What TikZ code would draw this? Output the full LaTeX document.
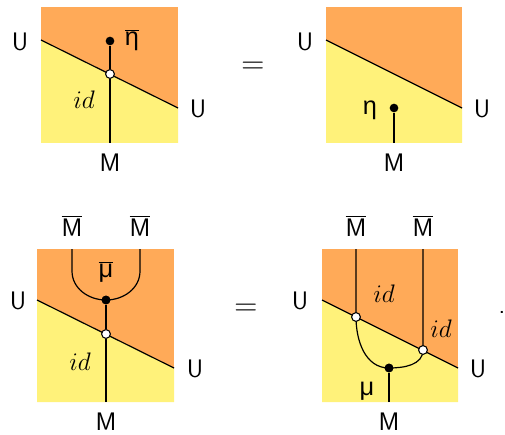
\RequirePackage{fix-cm}
\documentclass[tikz,border=0pt]{standalone}
\usepackage{fontspec}
\usetikzlibrary{calc}
\newfontfamily\greekfont{Liberation Sans}
\definecolor{upper}{RGB}{255,170,88}
\definecolor{lower}{RGB}{255,242,122}
\begin{document}
\begin{tikzpicture}[
  x=0.75pt, y=-0.75pt,
  font=\fontsize{19}{22}\selectfont\sffamily,
  wire/.style    = {line width=0.9pt},
  blackdot/.style = {circle, fill=black, inner sep=0pt, minimum size=6.5pt},
  whitedot/.style = {circle, draw=black, fill=white, line width=0.7pt,
                     inner sep=0pt, minimum size=6.5pt},
  lbl/.style     = {inner sep=0pt},
  eqsign/.style  = {inner sep=0pt, font=\fontsize{24}{26}\selectfont},
]
\useasboundingbox (0,0) rectangle (505,434);

%%────────── top left ─────────────────────────────────────
\fill[upper] (41,7) rectangle (178,143);
\fill[lower] (41,40) -- (178,108) -- (178,143) -- (41,143) -- cycle;
\coordinate (ulA) at (41,40);
\coordinate (urA) at (178,108);
\coordinate (botA) at (110,143);
\draw[wire] (ulA) -- (urA);
\node[blackdot] (etabar) at (110,41) {};
\node[whitedot] (idA) at (110,74) {};
\draw[wire] (botA) -- (idA) -- (etabar);
\node[whitedot] at (idA) {};
\node[lbl] (etabarL) at (132,40) {\greekfont$\overline{\mbox{η}}$};
\node[lbl] (idAL) at (84,100) {$id$};
\node[lbl] (UlA) at (20,42) {U};
\node[lbl] (UrA) at (198,109) {U};
\node[lbl] (MA) at (110,163) {M};

\node[eqsign] (eqA) at (253,68) {$=$};

%%────────── top right ────────────────────────────────────
\fill[upper] (326,7) rectangle (462,143);
\fill[lower] (326,40) -- (462,108) -- (462,143) -- (326,143) -- cycle;
\coordinate (ulB) at (326,40);
\coordinate (urB) at (462,108);
\coordinate (botB) at (394,143);
\draw[wire] (ulB) -- (urB);
\node[blackdot] (eta) at (394,108) {};
\draw[wire] (botB) -- (eta);
\node[lbl] (etaL) at (370,110) {\greekfont η};
\node[lbl] (UlB) at (305,42) {U};
\node[lbl] (UrB) at (482,109) {U};
\node[lbl] (MB) at (394,163) {M};

%%────────── bottom left ──────────────────────────────────
\fill[upper] (37,249) rectangle (174,402);
\fill[lower] (37,300) -- (174,368) -- (174,402) -- (37,402) -- cycle;
\coordinate (ulC) at (37,300);
\coordinate (urC) at (174,368);
\coordinate (tlC) at (72,249);
\coordinate (trC) at (140,249);
\coordinate (botC) at (106,402);
\draw[wire] (ulC) -- (urC);
\node[blackdot] (mubar) at (106,300) {};
\node[whitedot] (idC) at (106,334) {};
\draw[wire] (tlC) -- ++(0,22) to[out=-90, in=180] (mubar.center)
  to[out=0, in=-90] ($(trC)+(0,22)$) -- (trC);
\draw[wire] (botC) -- (idC) -- (mubar);
\node[whitedot] at (idC) {};
\node[blackdot] at (mubar) {};
\node[lbl] (mubarL) at (106,272) {\greekfont$\overline{\mbox{μ}}$};
\node[lbl] (idCL) at (80,362) {$id$};
\node[lbl] (MbarC1) at (72,226) {$\overline{\mbox{M}}$};
\node[lbl] (MbarC2) at (140,226) {$\overline{\mbox{M}}$};
\node[lbl] (UlC) at (18,301) {U};
\node[lbl] (UrC) at (195,369) {U};
\node[lbl] (MC) at (106,422) {M};

\node[eqsign] (eqB) at (246,310) {$=$};

%%────────── bottom right ─────────────────────────────────
\fill[upper] (322,249) rectangle (458,402);
\fill[lower] (322,300) -- (458,368) -- (458,402) -- (322,402) -- cycle;
\coordinate (ulD) at (322,300);
\coordinate (urD) at (458,368);
\coordinate (tlD) at (356,249);
\coordinate (trD) at (423,249);
\coordinate (botD) at (389,402);
\draw[wire] (ulD) -- (urD);
\node[whitedot] (idD1) at (356,317) {};
\node[whitedot] (idD2) at (423,350) {};
\node[blackdot] (mu) at (389,368) {};
\draw[wire] (tlD) -- (idD1.center) to[out=-90, in=180] (mu.center)
  to[out=0, in=-90] (idD2.center) -- (trD);
\draw[wire] (botD) -- (mu);
\node[whitedot] at (idD1) {};
\node[whitedot] at (idD2) {};
\node[blackdot] at (mu) {};
\node[lbl] (idD1L) at (384,294) {$id$};
\node[lbl] (idD2L) at (441,329) {$id$};
\node[lbl] (muL) at (367,391) {\greekfont μ};
\node[lbl] (MbarD1) at (356,226) {$\overline{\mbox{M}}$};
\node[lbl] (MbarD2) at (423,226) {$\overline{\mbox{M}}$};
\node[lbl] (UlD) at (300,301) {U};
\node[lbl] (UrD) at (478,369) {U};
\node[lbl] (MD) at (389,422) {M};

\node (stop) at (502,312) {.};
\end{tikzpicture}
\end{document}
